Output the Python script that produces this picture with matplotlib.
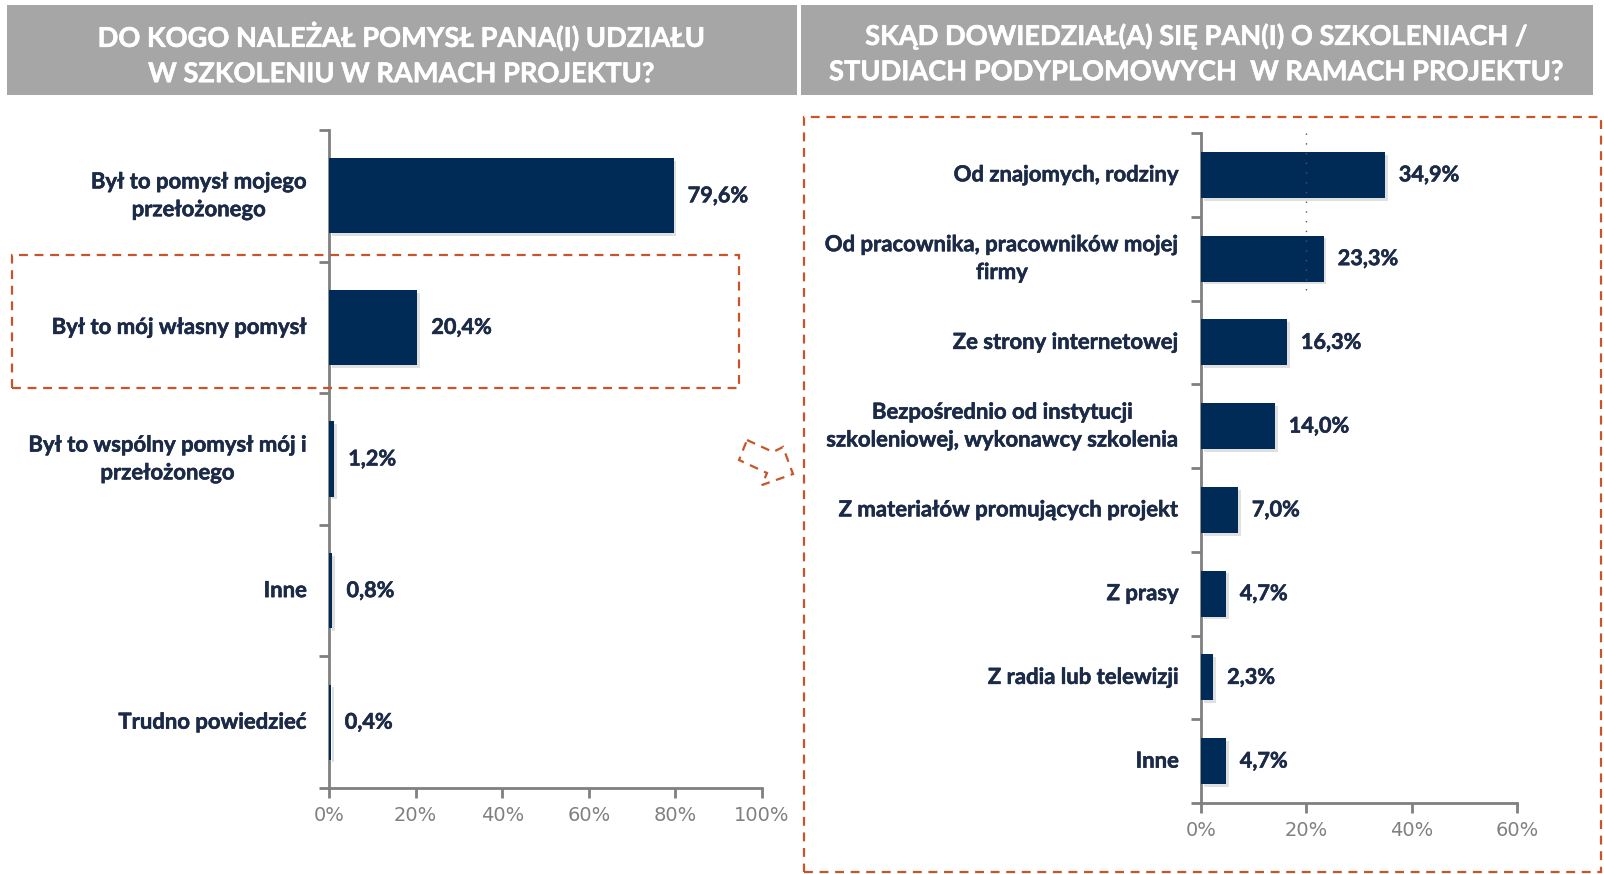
import matplotlib
matplotlib.use("Agg")
import matplotlib.pyplot as plt
from matplotlib.patches import Rectangle, Polygon
import matplotlib.patheffects as pe
from matplotlib.transforms import blended_transform_factory

W, H = 1604, 874

# ---------------- data ----------------
left_title = "DO KOGO NALEŻAŁ POMYSŁ PANA(I) UDZIAŁU\nW SZKOLENIU W RAMACH PROJEKTU?"
left_categories = ["Był to pomysł mojego\nprzełożonego", "Był to mój własny pomysł",
                   "Był to wspólny pomysł mój i\nprzełożonego", "Inne", "Trudno powiedzieć"]
left_values = [79.6, 20.4, 1.2, 0.8, 0.4]
left_labels = ["79,6%", "20,4%", "1,2%", "0,8%", "0,4%"]
left_xticks = [0, 20, 40, 60, 80, 100]

right_title = "SKĄD DOWIEDZIAŁ(A) SIĘ PAN(I) O SZKOLENIACH /\nSTUDIACH PODYPLOMOWYCH  W RAMACH PROJEKTU?"
right_categories = ["Od znajomych, rodziny", "Od pracownika, pracowników mojej\nfirmy",
                    "Ze strony internetowej", "Bezpośrednio od instytucji\nszkoleniowej, wykonawcy szkolenia",
                    "Z materiałów promujących projekt", "Z prasy", "Z radia lub telewizji", "Inne"]
right_values = [34.9, 23.3, 16.3, 14.0, 7.0, 4.7, 2.3, 4.7]
right_labels = ["34,9%", "23,3%", "16,3%", "14,0%", "7,0%", "4,7%", "2,3%", "4,7%"]
right_xticks = [0, 20, 40, 60]

NAVY = "#002B56"
TXT = "#1B2A47"
GRAY = "#808080"
ORANGE = "#C8552A"
HEAD = "#A6A6A6"
FONT = ["Lato", "DejaVu Sans"]

fig = plt.figure(figsize=(W / 100, H / 100), dpi=100)


def fx(x):
    return x / W


def fy(y):
    return 1 - y / H


def add_axes_px(x0, x1, ytop, ybot):
    return fig.add_axes([fx(x0), fy(ybot), (x1 - x0) / W, (ybot - ytop) / H])


def heavy(color):
    return [pe.withStroke(linewidth=0.4, foreground=color)]


# ---------------- header boxes ----------------
for (x0, x1, title) in [(7, 797, left_title), (801, 1593, right_title)]:
    fig.patches.append(Rectangle((fx(x0), fy(95)), (x1 - x0) / W, 90 / H,
                                 transform=fig.transFigure, facecolor=HEAD, edgecolor="none", zorder=0))
    fig.text(fx((x0 + x1) / 2), fy(54), title, ha="center", va="center", color="white",
             fontsize=19.6, fontweight="bold", family=FONT, linespacing=1.55,
             path_effects=heavy("white"))


def draw_chart(ax, cats, vals, labels, xticks, xmax, barh, label_pad):
    n = len(cats)
    y = list(range(n))
    shadow = [pe.SimplePatchShadow(offset=(2, -2), shadow_rgbFace="#000000", alpha=0.12), pe.Normal()]
    bars = ax.barh(y, vals, height=barh, color=NAVY, edgecolor="none", zorder=3)
    for b in bars:
        b.set_path_effects(shadow)
    ax.set_ylim(n - 0.5, -0.5)
    ax.set_xlim(0, xmax)
    ax.set_yticks([i - 0.5 for i in range(n + 1)])
    ax.set_yticklabels([])
    ax.set_xticks(xticks)
    ax.set_xticklabels([f"{t}%" for t in xticks], fontsize=14, color=GRAY, family="DejaVu Sans")
    ax.tick_params(axis="y", direction="out", length=7, width=2, color=GRAY)
    ax.tick_params(axis="x", direction="out", length=7, width=2, color=GRAY, pad=6)
    for s in ["top", "right"]:
        ax.spines[s].set_visible(False)
    for s in ["left", "bottom"]:
        ax.spines[s].set_color(GRAY)
        ax.spines[s].set_linewidth(2)
    tr = blended_transform_factory(ax.transAxes, ax.transData)
    for i, c in enumerate(cats):
        ax.annotate(c, xy=(0, i), xycoords=tr, xytext=(-label_pad, 0), textcoords="offset pixels",
                    ha="right", va="center", multialignment="center", fontsize=15.9,
                    fontweight="bold", color=TXT, family=FONT, linespacing=1.4,
                    path_effects=heavy(TXT))
    for i, (v, l) in enumerate(zip(vals, labels)):
        ax.annotate(l, xy=(v, i), xytext=(14, 0), textcoords="offset pixels",
                    ha="left", va="center", fontsize=15.6, fontweight="bold", color=TXT, family=FONT,
                    path_effects=heavy(TXT))
    ax.set_facecolor("none")


axL = add_axes_px(329, 762, 130, 788)
draw_chart(axL, left_categories, left_values, left_labels, left_xticks, 100, 0.57, 22)

axR = add_axes_px(1201, 1517, 133, 803)
draw_chart(axR, right_categories, right_values, right_labels, right_xticks, 60, 0.55, 22)
# faint dashed gridline artefact at 20%
axR.plot([20, 20], [-0.5, 1.45], color="#555555", lw=1, ls=(0, (1, 6)), zorder=4)

# ---------------- dashed highlight boxes ----------------
for (x0, y0, x1, y1) in [(12, 255, 739, 388), (804, 117, 1601, 872)]:
    fig.patches.append(Rectangle((fx(x0), fy(y1)), (x1 - x0) / W, (y1 - y0) / H,
                                 transform=fig.transFigure, facecolor="none", edgecolor=ORANGE,
                                 lw=1.6, ls=(0, (4, 3)), zorder=5))

arrow_pts = [(747, 440), (773, 452), (783, 447), (793, 474), (762, 485), (767, 473), (739, 460)]
fig.patches.append(Polygon([(fx(x), fy(y)) for x, y in arrow_pts], closed=True,
                           transform=fig.transFigure, facecolor="none", edgecolor=ORANGE,
                           lw=1.6, ls=(0, (4, 3)), zorder=5))

fig.savefig("out.png", dpi=100)
